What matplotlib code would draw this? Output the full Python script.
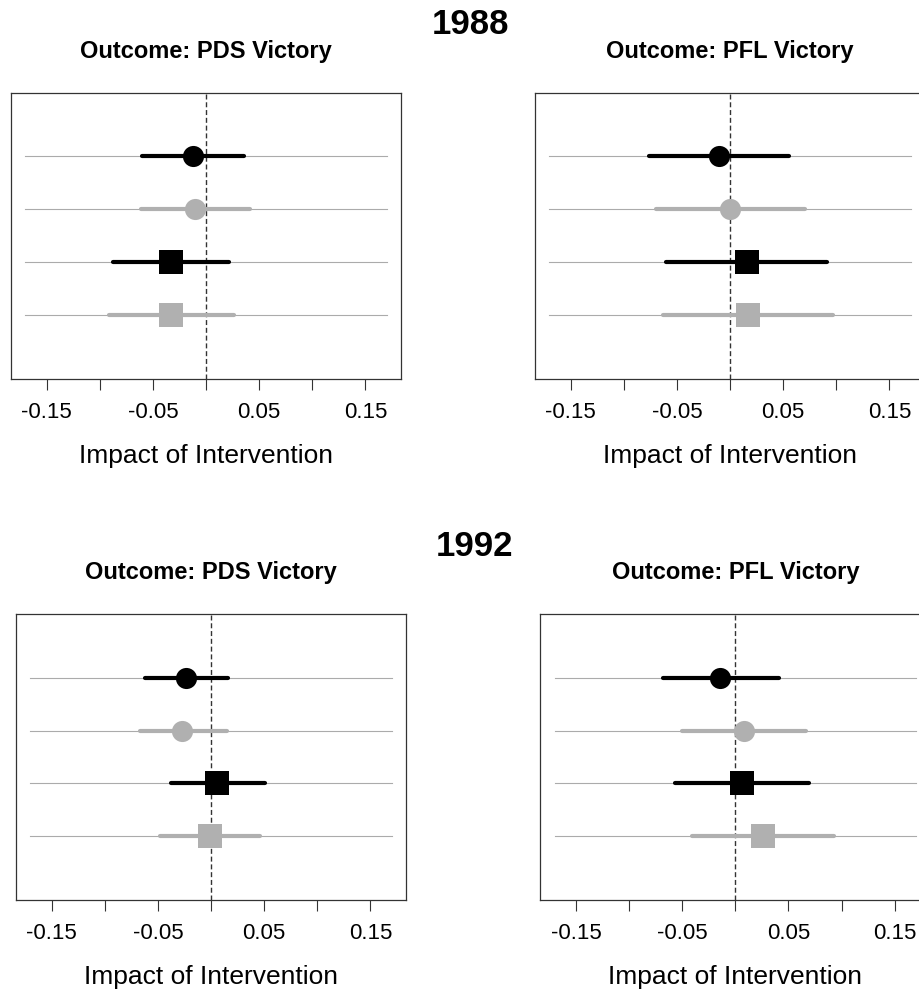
import matplotlib
matplotlib.use("Agg")
import matplotlib.pyplot as plt

plt.rcParams['font.family'] = ['Liberation Sans', 'DejaVu Sans']

# ---- data (rows top to bottom: black circle, gray circle, black square, gray square)
years = ["1988", "1992"]
outcomes = ["Outcome: PDS Victory", "Outcome: PFL Victory"]

pds_1988_est = [-0.0125, -0.010, -0.033, -0.033]
pds_1988_lo = [-0.060, -0.061, -0.088, -0.091]
pds_1988_hi = [0.036, 0.041, 0.022, 0.026]

pfl_1988_est = [-0.010, 0.000, 0.016, 0.017]
pfl_1988_lo = [-0.076, -0.070, -0.060, -0.063]
pfl_1988_hi = [0.056, 0.071, 0.091, 0.097]

pds_1992_est = [-0.0235, -0.027, 0.006, -0.001]
pds_1992_lo = [-0.062, -0.067, -0.038, -0.048]
pds_1992_hi = [0.016, 0.015, 0.051, 0.046]

pfl_1992_est = [-0.014, 0.0085, 0.006, 0.026]
pfl_1992_lo = [-0.068, -0.050, -0.057, -0.041]
pfl_1992_hi = [0.041, 0.067, 0.069, 0.093]

row_pos = [4, 3, 2, 1]
row_colors = ["black", "#b0b0b0", "black", "#b0b0b0"]
row_markers = ["o", "o", "s", "s"]

tick_vals = [-0.15, -0.10, -0.05, 0.0, 0.05, 0.10, 0.15]
tick_labels = ["-0.15", "", "-0.05", "", "0.05", "", "0.15"]
ref_range = (-0.17, 0.17)

panels = [
    (pds_1988_est, pds_1988_lo, pds_1988_hi),
    (pfl_1988_est, pfl_1988_lo, pfl_1988_hi),
    (pds_1992_est, pds_1992_lo, pds_1992_hi),
    (pfl_1992_est, pfl_1992_lo, pfl_1992_hi),
]

W, H = 920, 990
fig = plt.figure(figsize=(W / 100, H / 100), dpi=100)

# axes boxes in pixels: left, top, right, bottom
boxes = [
    (11, 92.7, 401, 379),
    (535, 92.7, 925, 379),
    (16, 614, 406, 900),
    (540.3, 614, 930.3, 900),
]

for i, ((est, lo, hi), (l, t, r, b)) in enumerate(zip(panels, boxes)):
    ax = fig.add_axes([l / W, 1 - b / H, (r - l) / W, (b - t) / H])
    ax.set_xlim(-0.1836, 0.1836)
    ax.set_ylim(-0.2, 5.2)
    for y in row_pos:
        ax.plot(ref_range, [y, y], color="#ababab", lw=0.8, zorder=1)
    ax.axvline(0, color="#333333", lw=1.0, dashes=(3.6, 2.0), zorder=2)
    for y, e, lo_, hi_, c, m in zip(row_pos, est, lo, hi, row_colors, row_markers):
        ax.plot([lo_, hi_], [y, y], color=c, lw=3.0, solid_capstyle="round", zorder=3)
        ms = 15.2 if m == "o" else 16.6
        ax.plot([e], [y], marker=m, color=c, markersize=ms, markeredgewidth=0, zorder=4)
    ax.set_yticks([])
    ax.set_xticks(tick_vals)
    ax.set_xticklabels(tick_labels)
    ax.tick_params(axis="x", length=8, width=0.8, color="#333333", labelsize=16, pad=8.5)
    for s in ax.spines.values():
        s.set_color("#333333")
        s.set_linewidth(0.9)
    ax.set_xlabel("Impact of Intervention", fontsize=19, labelpad=15)
    ax.set_title(outcomes[i % 2], fontsize=17, fontweight="bold", pad=25)

fig.text(470 / W, 1 - 24 / H, years[0], fontsize=25, fontweight="bold", ha="center", va="center")
fig.text(475 / W, 1 - 546 / H, years[1], fontsize=25, fontweight="bold", ha="center", va="center")

fig.savefig("out.png", dpi=100)
